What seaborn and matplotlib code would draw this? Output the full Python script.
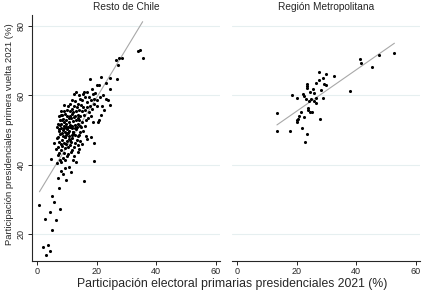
import matplotlib
matplotlib.use("Agg")
from matplotlib import pyplot as plt
import numpy as np
import pandas as pd
import seaborn as sns

# Resto de Chile: primarias (x) vs primera vuelta (y)
resto_x = [0.8, 2.5, 4.4, 4.9, 5.8, 6.2, 4.9, 7.6, 7.5, 1.9, 3.8, 4.4, 3.1, 4.6, 15.9, 19.2, 19.3, 9.8, 7.2, 8.8,
           8.0, 11.3, 10.7, 13.1, 9.5, 8.1, 6.6, 7.8, 9.5, 6.4, 7.5, 8.9, 7.2, 8.5, 9.8, 10.3, 11.3, 12.5, 13.6, 12.9,
           13.6, 14.2, 16.5, 16.9, 18.1, 9.3, 11.0, 11.6, 10.4, 12.2, 14.5,
           35.5, 34.0, 34.7, 28.6, 27.4, 26.4, 27.2, 26.8, 24.6, 21.6, 17.8, 20.1, 20.9, 24.6, 23.2, 24.6, 23.2, 23.7,
           22.3, 21.2, 20.1, 20.9, 20.5, 18.9, 22.6, 21.5, 21.8, 16.7, 15.6, 14.5, 13.4, 18.4,
           13.2, 12.5, 14.0, 15.2, 16.2, 17.5, 18.8, 19.6, 16.8, 18.2, 19.3, 11.6, 12.9, 15.9,
           9.2, 10.5, 11.2, 12.4, 13.6, 14.8, 15.5, 16.8, 17.8, 19.0, 20.2, 10.0, 11.8, 13.0, 14.1, 15.2, 16.2, 18.5,
           17.4, 12.2, 9.0, 8.0, 11.0,
           7.9, 8.4, 9.3, 10.2, 11.0, 12.8, 13.6, 14.6, 15.8, 17.2, 18.0, 8.8, 9.8, 10.6, 11.5, 12.0, 13.2, 14.2,
           15.0, 16.5, 7.6, 7.4, 9.1, 10.9, 12.4, 8.3, 11.8, 13.9,
           7.1, 7.6, 8.2, 9.0, 9.6, 10.4, 11.2, 12.6, 13.8, 14.8, 16.0, 8.0, 8.8, 9.4, 10.0, 10.8, 11.6, 12.2, 13.0,
           6.8, 7.3, 15.5, 9.7, 11.9, 10.2, 8.5, 13.4, 11.0, 7.4, 12.8, 14.3, 9.2,
           7.8, 8.6, 9.8, 10.8, 11.9, 12.8, 13.4, 14.6, 7.4, 8.4, 9.0, 10.1, 11.0, 12.3, 6.8, 5.8, 9.4, 10.6, 12.0,
           8.0, 11.5, 13.9,
           7.0, 8.2, 9.3, 10.5, 11.8, 14.0, 9.9, 6.9, 12.0, 15.0, 8.6]
resto_y = [28.4, 24.3, 26.3, 31.0, 29.2, 24.0, 21.3, 27.3, 33.2, 16.3, 16.7, 15.1, 13.9, 41.6, 35.2, 41.0, 46.3, 35.6,
           36.2, 37.2, 38.1, 37.9, 39.4, 40.7, 39.1, 40.7, 40.4, 41.5, 41.5, 44.5, 43.4, 43.3, 48.0, 45.4, 45.9, 43.1,
           43.6, 42.5, 43.6, 46.3, 45.6, 48.5, 48.2, 47.4, 48.0, 47.9, 47.1, 48.5, 49.2, 49.5, 49.5,
           70.9, 72.8, 73.2, 70.8, 70.8, 70.1, 68.7, 64.8, 65.0, 65.3, 64.7, 62.9, 62.9, 61.8, 63.7, 57.2, 59.1, 58.6,
           60.1, 59.6, 58.6, 52.9, 52.2, 52.4, 55.7, 54.3, 56.9, 61.0, 60.5, 59.1, 56.7, 62.0,
           61.0, 60.3, 60.2, 58.8, 59.6, 59.5, 60.3, 60.8, 58.2, 58.6, 59.0, 58.8, 58.4, 60.9,
           57.2, 56.9, 57.5, 57.0, 57.6, 57.3, 56.6, 56.8, 57.1, 57.4, 57.0, 55.9, 56.0, 55.6, 55.8, 55.4, 55.9, 56.2,
           55.2, 55.2, 55.5, 55.4, 55.4,
           54.5, 54.3, 54.6, 54.2, 54.0, 54.1, 54.4, 54.0, 54.5, 53.6, 54.1, 53.3, 53.0, 53.6, 53.4, 52.6, 53.0, 52.8,
           52.4, 53.0, 53.0, 54.2, 52.4, 52.2, 53.7, 52.8, 54.7, 53.5,
           51.7, 51.5, 51.9, 51.3, 51.8, 51.0, 51.6, 51.4, 51.7, 50.8, 51.2, 50.5, 50.1, 49.6, 50.4, 49.8, 50.6, 49.4,
           50.2, 50.8, 49.8, 49.8, 50.9, 51.2, 49.1, 49.3, 51.0, 50.9, 50.4, 50.6, 51.3, 50.7,
           48.8, 48.4, 48.6, 48.2, 47.6, 48.6, 47.2, 46.8, 46.6, 47.2, 46.2, 46.8, 45.6, 45.2, 47.8, 46.4, 48.0, 47.5,
           48.9, 46.0, 46.5, 48.4,
           45.2, 44.2, 44.8, 45.0, 44.3, 44.6, 42.6, 42.7, 41.5, 46.0, 42.0]

# Region Metropolitana
rm_x = [52.9, 47.7, 41.3, 41.8, 45.3, 38.1, 32.7, 27.7, 30.0, 28.9, 27.6, 26.4, 29.2, 29.9, 23.4, 23.4, 23.5, 25.5,
        24.6, 25.9, 28.1, 22.0, 22.6, 18.6, 20.1, 23.2, 24.8, 26.6, 28.9, 24.2, 25.9, 26.4, 23.8, 23.9, 24.5, 25.1,
        21.5, 20.9, 22.5, 20.5, 20.2, 20.2, 27.9, 13.5, 13.4, 17.8, 21.9, 23.4, 23.0]
rm_y = [72.4, 71.8, 70.4, 69.4, 68.2, 61.4, 65.5, 66.7, 66.3, 64.9, 64.6, 63.7, 63.3, 63.0, 63.2, 62.6, 62.2, 61.8,
        61.1, 60.8, 61.5, 60.5, 59.9, 60.1, 59.4, 59.0, 59.1, 59.2, 59.4, 58.4, 58.3, 57.8, 56.4, 55.7, 55.1, 55.1,
        55.1, 54.0, 53.8, 53.3, 52.9, 52.4, 53.3, 54.8, 49.8, 49.8, 50.5, 48.8, 46.6]

panels = ["Resto de Chile", "Región Metropolitana"]
# linear fit (intercept, slope) as shown in the chart
fits = {"Resto de Chile": (31.07, 1.415), "Región Metropolitana": (43.5, 0.597)}

df = pd.concat([
    pd.DataFrame({"x": resto_x, "y": resto_y, "panel": panels[0]}),
    pd.DataFrame({"x": rm_x, "y": rm_y, "panel": panels[1]}),
])

sns.set_style("white")
plt.rcParams["font.family"] = ["Liberation Sans", "DejaVu Sans"]

fig, axes = plt.subplots(1, 2, figsize=(4.35, 2.96), dpi=100, sharey=True)
fig.subplots_adjust(left=0.0736, right=0.9655, bottom=0.118, top=0.949, wspace=0.064)

for ax, name in zip(axes, panels):
    sub = df[df["panel"] == name]
    for yv in [20, 40, 60, 80]:
        ax.axhline(yv, color="#e6eff0", linewidth=0.8, zorder=0)
    b0, b1 = fits[name]
    xs = np.array([sub["x"].min(), sub["x"].max()])
    sns.lineplot(x=xs, y=b0 + b1 * xs, ax=ax, color="#a8a8a8", linewidth=0.8, zorder=2)
    sns.scatterplot(data=sub, x="x", y="y", ax=ax, color="black", s=5, linewidth=0, zorder=3)
    ax.set_xlim(-1.7, 61.5)
    ax.set_ylim(12.2, 83.2)
    ax.set_xticks([0, 20, 40, 60])
    ax.set_yticks([20, 40, 60, 80])
    ax.set_xlabel("")
    ax.set_ylabel("")
    ax.set_title(name, fontsize=7.3, pad=3.5)
    ax.tick_params(axis="both", labelsize=6.5, length=3, width=0.6, color="black", pad=1.5, direction="out")
    for s in ["top", "right"]:
        ax.spines[s].set_visible(False)
    ax.spines["bottom"].set_linewidth(0.8)
    ax.spines["left"].set_linewidth(0.8)

axes[0].tick_params(axis="y", labelrotation=90, left=True)
for lab in axes[0].get_yticklabels():
    lab.set_va("center")
axes[1].spines["left"].set_visible(False)
axes[1].tick_params(axis="y", left=False, labelleft=False)
axes[0].tick_params(axis="x", bottom=True)
axes[1].tick_params(axis="x", bottom=True)

fig.text(0.533, 0.042, "Participación electoral primarias presidenciales 2021 (%)", ha="center", va="center", fontsize=8.8)
fig.text(0.022, 0.547, "Participación presidenciales primera vuelta 2021 (%)", ha="center", va="center",
         rotation=90, fontsize=6.8)

fig.savefig("out.png", dpi=100)
